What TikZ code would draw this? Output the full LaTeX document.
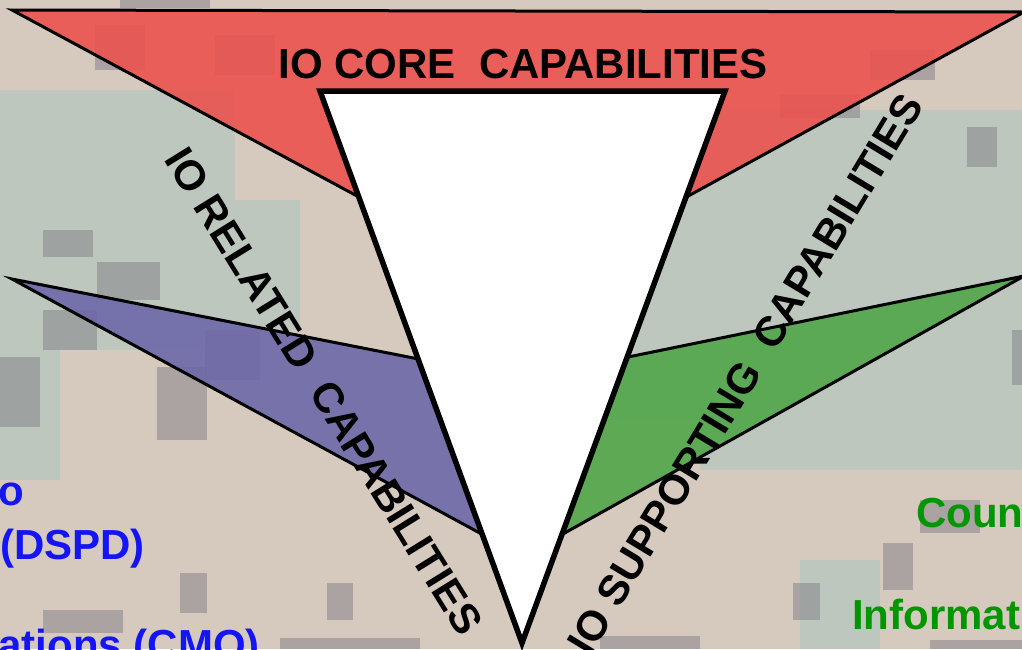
\documentclass[tikz,border=0pt]{standalone}
\usepackage{fontspec}
\setmainfont{Liberation Sans}
\definecolor{camotan}{RGB}{214,202,191}
\definecolor{camogreen}{RGB}{190,199,190}
\definecolor{camodark}{RGB}{128,126,134}
\definecolor{corered}{RGB}{236,80,76}
\definecolor{relblue}{RGB}{108,102,168}
\definecolor{supgreen}{RGB}{78,165,70}
\definecolor{txtblue}{RGB}{20,20,245}
\definecolor{txtgreen}{RGB}{0,150,0}
\tikzset{
  blot/.style={fill=camodark, fill opacity=0.5},
  greenblot/.style={fill=camogreen},
  wedge/.style={draw=black, line width=3pt, line join=miter, fill opacity=0.88},
  core/.style={draw=black, line width=5.5pt, line join=miter, fill=white},
  captxt/.style={font=\bfseries\fontsize{42}{48}\selectfont, inner sep=0pt, text=black},
  bluetxt/.style={font=\bfseries\fontsize{42}{48}\selectfont, inner sep=0pt, text=txtblue},
  greentxt/.style={font=\bfseries\fontsize{42}{48}\selectfont, inner sep=0pt, text=txtgreen}
}
\begin{document}
\begin{tikzpicture}[x=1pt,y=-1pt]
\useasboundingbox (0,0) rectangle (1022,649);
\clip (0,0) rectangle (1022,649);
% camouflage background
\fill[camotan] (0,0) rectangle (1022,649);
\fill[greenblot] (0,90) rectangle (235,350);
\fill[greenblot] (230,200) rectangle (300,330);
\fill[greenblot] (590,110) rectangle (1022,330);
\fill[greenblot] (700,330) rectangle (1022,470);
\fill[greenblot] (600,330) rectangle (700,420);
\fill[greenblot] (0,330) rectangle (60,480);
\fill[greenblot] (800,560) rectangle (880,649);
\fill[blot] (120,0) rectangle (210,8);
\fill[blot] (95,25) rectangle (145,70);
\fill[blot] (215,35) rectangle (275,75);
\fill[blot] (870,50) rectangle (935,80);
\fill[blot] (780,95) rectangle (860,118);
\fill[blot] (43,230) rectangle (93,257);
\fill[blot] (97,262) rectangle (160,300);
\fill[blot] (43,310) rectangle (97,350);
\fill[blot] (0,357) rectangle (40,427);
\fill[blot] (157,367) rectangle (207,440);
\fill[blot] (205,330) rectangle (260,380);
\fill[blot] (180,573) rectangle (207,613);
\fill[blot] (43,610) rectangle (123,633);
\fill[blot] (327,583) rectangle (353,620);
\fill[blot] (967,127) rectangle (997,167);
\fill[blot] (1012,330) rectangle (1022,385);
\fill[blot] (920,500) rectangle (980,533);
\fill[blot] (883,543) rectangle (913,590);
\fill[blot] (793,583) rectangle (820,620);
\fill[blot] (280,638) rectangle (420,649);
\fill[blot] (600,636) rectangle (700,649);
\fill[blot] (930,640) rectangle (1022,649);
% vertices
\coordinate (r1) at (12,10);
\coordinate (r2) at (1024,12);
\coordinate (r3) at (524,286);
\coordinate (b1) at (12,279);
\coordinate (b2) at (500,375);
\coordinate (b3) at (500,544);
\coordinate (g1) at (1024,276);
\coordinate (g2) at (545,374);
\coordinate (g3) at (545,544);
\coordinate (w1) at (320,91);
\coordinate (w2) at (725,91);
\coordinate (w3) at (522,643);
% wedges
\filldraw[wedge, fill=corered] (r1) -- (r2) -- (r3) -- cycle;
\filldraw[wedge, fill=relblue] (b1) -- (b2) -- (b3) -- cycle;
\filldraw[wedge, fill=supgreen] (g1) -- (g2) -- (g3) -- cycle;
\filldraw[core] (w1) -- (w2) -- (w3) -- cycle;
% labels
\node[captxt, anchor=base] (tcore) at (523,78) {IO CORE\ \ CAPABILITIES};
\node[captxt, rotate=-58.2] (trel) at (324,391) {IO RELATED\ \ CAPABILITIES};
\node[captxt, rotate=58.8] (tsup) at (745,374) {IO SUPPORTING\ \ CAPABILITIES};
\node[bluetxt, anchor=base east] (l1) at (24,505) {o};
\node[bluetxt, anchor=base east] (l2) at (145,559) {(DSPD)};
\node[bluetxt, anchor=base east] (l3) at (260,659) {ations (CMO)};
\node[greentxt, anchor=base west] (r1t) at (916,527) {Coun};
\node[greentxt, anchor=base west] (r2t) at (852,629) {Informat};
\end{tikzpicture}
\end{document}
